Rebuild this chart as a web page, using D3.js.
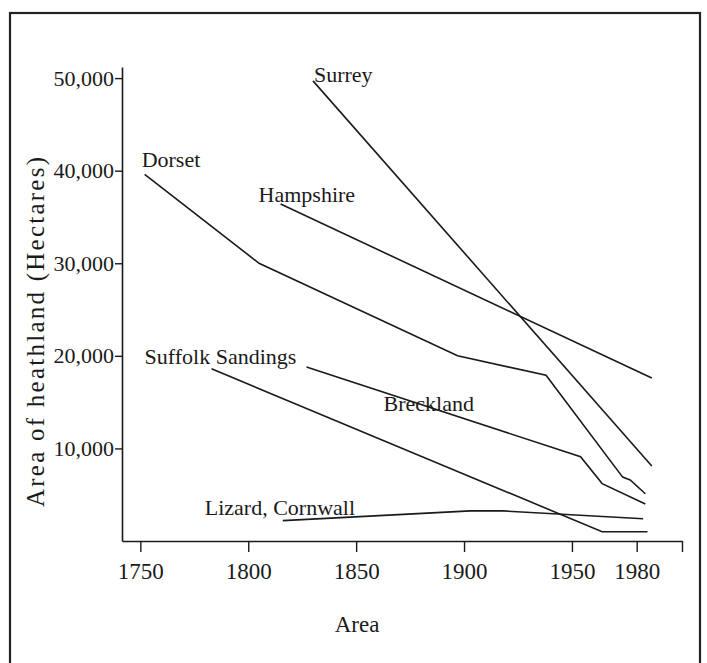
<!DOCTYPE html>
<html>
<head>
<meta charset="utf-8">
<script src="https://cdn.jsdelivr.net/npm/d3@7"></script>
<style>
  html, body { margin: 0; padding: 0; background: #fff; }
  svg { display: block; }
  text { font-family: "Liberation Serif", "Times New Roman", serif; fill: #1a1a1a; }
</style>
</head>
<body>
<svg id="chart" width="707" height="663"></svg>
<script>
// ---------------- data ----------------
const seriesNames = ["Surrey", "Hampshire", "Dorset", "Breckland", "Suffolk Sandings", "Lizard, Cornwall"];

const surreyYears = [1830, 1987];
const surreyValues = [49700, 8100];

const hampshireYears = [1815, 1987];
const hampshireValues = [36400, 17600];

const dorsetYears = [1752, 1805, 1897, 1938, 1973.5, 1977, 1984];
const dorsetValues = [39600, 30000, 20000, 17900, 6900, 6600, 5100];

const brecklandYears = [1827, 1954, 1964, 1984];
const brecklandValues = [18800, 9100, 6200, 4000];

const suffolkYears = [1783, 1964, 1985];
const suffolkValues = [18600, 1000, 1000];

const lizardYears = [1816, 1903, 1918, 1983];
const lizardValues = [2200, 3250, 3250, 2400];

const xTickValues = [1750, 1800, 1850, 1900, 1950, 1980];
const xTickLabels = ["1750", "1800", "1850", "1900", "1950", "1980"];
const yTickValues = [10000, 20000, 30000, 40000, 50000];
const yTickLabels = ["10,000", "20,000", "30,000", "40,000", "50,000"];

const xTitle = "Area";
const yTitle = "Area of heathland (Hectares)";

// ---------------- layout ----------------
const svg = d3.select("#chart");
const ink = "#1a1a1a";

const x = d3.scaleLinear().domain([1741.5, 2001]).range([122, 682]);
const y = d3.scaleLinear().domain([0, 51200]).range([541, 67]);

// outer frame
svg.append("rect")
  .attr("x", 10).attr("y", 13).attr("width", 690).attr("height", 665)
  .attr("fill", "none").attr("stroke", "#222").attr("stroke-width", 2.2);

// x axis
const xAxis = d3.axisBottom(x)
  .tickValues(xTickValues.concat([x.domain()[1]]))
  .tickSize(11)
  .tickSizeOuter(0)
  .tickFormat((d, i) => i < xTickLabels.length ? xTickLabels[i] : "");
const gx = svg.append("g").attr("transform", `translate(0,${y(0)})`).call(xAxis);
gx.select(".domain").attr("stroke", ink).attr("stroke-width", 1.6);
gx.selectAll(".tick line").attr("stroke", ink).attr("stroke-width", 1.4);
gx.selectAll(".tick text")
  .attr("font-family", "Liberation Serif, serif")
  .attr("font-size", 23).attr("fill", ink).attr("dy", "1.05em");

// y axis
const yAxis = d3.axisLeft(y)
  .tickValues(yTickValues)
  .tickSize(7)
  .tickSizeOuter(0)
  .tickFormat((d, i) => yTickLabels[i]);
const gy = svg.append("g").attr("transform", `translate(${x.range()[0]},0)`).call(yAxis);
gy.select(".domain").attr("stroke", ink).attr("stroke-width", 1.6);
gy.selectAll(".tick line").attr("stroke", ink).attr("stroke-width", 1.4);
gy.selectAll(".tick text")
  .attr("font-family", "Liberation Serif, serif")
  .attr("font-size", 22).attr("fill", ink).attr("x", -8);

// axis titles
svg.append("text")
  .attr("x", 357).attr("y", 632)
  .attr("text-anchor", "middle").attr("font-size", 23)
  .text(xTitle);

svg.append("text")
  .attr("transform", "translate(44,332) rotate(-90)")
  .attr("text-anchor", "middle").attr("font-size", 25)
  .attr("textLength", 350).attr("lengthAdjust", "spacing")
  .text(yTitle);

// ---------------- series ----------------
const series = [
  { name: seriesNames[0], years: surreyYears, values: surreyValues },
  { name: seriesNames[1], years: hampshireYears, values: hampshireValues },
  { name: seriesNames[2], years: dorsetYears, values: dorsetValues },
  { name: seriesNames[3], years: brecklandYears, values: brecklandValues },
  { name: seriesNames[4], years: suffolkYears, values: suffolkValues },
  { name: seriesNames[5], years: lizardYears, values: lizardValues }
];

// label offsets (pixels) relative to each series' first point
const labelOffsets = {
  "Surrey": [1, 1],
  "Hampshire": [-22, -2],
  "Dorset": [-3, -7],
  "Breckland": [77, 44],
  "Suffolk Sandings": [-67, -5],
  "Lizard, Cornwall": [-78, -6]
};

const line = d3.line().x(d => x(d[0])).y(d => y(d[1]));

series.forEach(s => {
  const pts = s.years.map((yr, i) => [yr, s.values[i]]);
  svg.append("path")
    .datum(pts)
    .attr("d", line)
    .attr("fill", "none")
    .attr("stroke", ink)
    .attr("stroke-width", 1.6)
    .attr("stroke-linejoin", "miter");
  const off = labelOffsets[s.name];
  svg.append("text")
    .attr("x", x(pts[0][0]) + off[0])
    .attr("y", y(pts[0][1]) + off[1])
    .attr("font-size", 22)
    .text(s.name);
});
</script>
</body>
</html>
